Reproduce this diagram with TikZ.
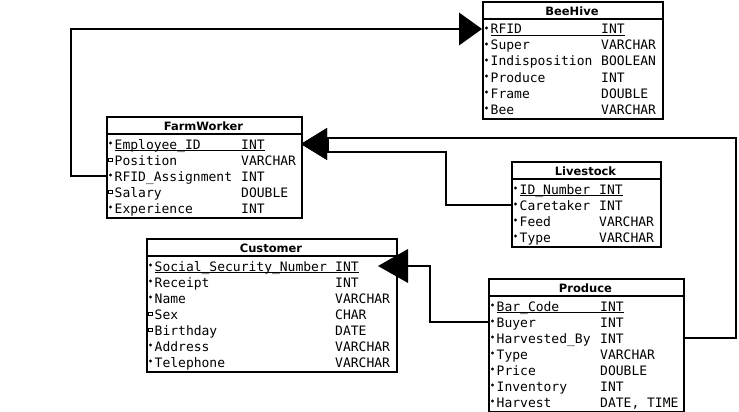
\documentclass[tikz,border=0pt]{standalone}
\usepackage{fontspec}
\newfontfamily\monof{DejaVu Sans Mono}
\newfontfamily\titlef{DejaVu Sans}
\usetikzlibrary{arrows.meta,calc}
\tikzset{
  tblbox/.style={draw, line width=2pt, inner sep=0pt, anchor=north west},
  tbltitle/.style={font=\titlef\bfseries\fontsize{11.5}{12}\selectfont, inner sep=0pt},
  attr/.style={font=\monof\fontsize{13}{14}\selectfont, inner sep=0pt, anchor=base west},
  bulf/.style={circle, fill, inner sep=0pt, minimum size=3.3pt, yshift=0.5pt},
  bulo/.style={rectangle, draw, line width=0.7pt, inner sep=0pt, minimum size=3.4pt, fill=white, yshift=-0.5pt},
  conn/.style={line width=2pt},
  keyline/.style={line width=1pt},
}
\newcommand\dbtable[6]{%
  \def\curid{#1}\def\curleft{#2}\def\curright{#3}\def\curtop{#4}%
  \pgfmathsetmacro\dbw{#3-#2}%
  \pgfmathsetmacro\dbh{18+16*#5+3}%
  \node[tblbox, minimum width=\dbw pt, minimum height=\dbh pt] (#1) at (#2,#4) {};
  \draw[line width=2pt] (#2,{#4+18}) -- (#3,{#4+18});
  \node[tbltitle] (#1-title) at ({(#2+#3)/2},{#4+10}) {#6};
}
\newcommand\dbcol[1]{\def\curtypex{#1}}
\newcommand\dbrow[4]{%
  \pgfmathsetmacro\rowc{\curtop+29+16*(#1-1)}%
  \coordinate (\curid-r#1) at (\curleft,{\rowc-1});
  \coordinate (\curid-R#1) at (\curright,{\rowc-1});
  \node[bul#2] (\curid-b#1) at ({\curleft+4.5},{\rowc-1.5}) {};
  \node[attr] (\curid-n#1) at ({\curleft+8.5},{\rowc+4}) {#3};
  \node[attr] (\curid-t#1) at (\curtypex,{\rowc+4}) {#4};
}
\newcommand\dbkey{\draw[keyline] ([yshift=-1.8pt]\curid-n1.base west) -- ([yshift=-1.8pt]\curid-t1.base east);}
\begin{document}
\begin{tikzpicture}[x=1pt,y=-1pt]
\useasboundingbox (0,0) rectangle (739,412);

% BeeHive
\dbtable{bee}{482}{662}{1}{6}{BeeHive}
\dbcol{601}
\dbrow{1}{f}{RFID}{INT}
\dbrow{2}{f}{Super}{VARCHAR}
\dbrow{3}{f}{Indisposition}{BOOLEAN}
\dbrow{4}{f}{Produce}{INT}
\dbrow{5}{f}{Frame}{DOUBLE}
\dbrow{6}{f}{Bee}{VARCHAR}
\dbkey

% FarmWorker
\dbtable{fw}{106}{301}{116}{5}{FarmWorker}
\dbcol{241}
\dbrow{1}{f}{Employee\_ID}{INT}
\dbrow{2}{o}{Position}{VARCHAR}
\dbrow{3}{f}{RFID\_Assignment}{INT}
\dbrow{4}{o}{Salary}{DOUBLE}
\dbrow{5}{f}{Experience}{INT}
\dbkey

% Livestock
\dbtable{liv}{511}{660}{161}{4}{Livestock}
\dbcol{599}
\dbrow{1}{f}{ID\_Number}{INT}
\dbrow{2}{f}{Caretaker}{INT}
\dbrow{3}{f}{Feed}{VARCHAR}
\dbrow{4}{f}{Type}{VARCHAR}
\dbkey

% Customer
\dbtable{cust}{146}{396}{238}{7}{Customer}
\dbcol{335}
\dbrow{1}{f}{Social\_Security\_Number}{INT}
\dbrow{2}{f}{Receipt}{INT}
\dbrow{3}{f}{Name}{VARCHAR}
\dbrow{4}{o}{Sex}{CHAR}
\dbrow{5}{o}{Birthday}{DATE}
\dbrow{6}{f}{Address}{VARCHAR}
\dbrow{7}{f}{Telephone}{VARCHAR}
\dbkey

% Produce
\dbtable{prod}{488}{683}{278}{7}{Produce}
\dbcol{600}
\dbrow{1}{f}{Bar\_Code}{INT}
\dbrow{2}{f}{Buyer}{INT}
\dbrow{3}{f}{Harvested\_By}{INT}
\dbrow{4}{f}{Type}{VARCHAR}
\dbrow{5}{f}{Price}{DOUBLE}
\dbrow{6}{f}{Inventory}{INT}
\dbrow{7}{f}{Harvest}{DATE, TIME}
\dbkey

% connectors
\coordinate (bendA) at (71,0);
\coordinate (bendB) at (446,152);
\coordinate (bendC) at (736,138);
\coordinate (bendD) at (430,0);
\coordinate (jog) at (328,0);
\coordinate (custtip) at ([xshift=-18pt]cust-R1);

\draw[conn, -{Triangle[length=23pt,width=33pt,line width=0pt]}]
  (fw-r3) -- (fw-r3 -| bendA) |- (bee-r1);
\draw[conn, -{Triangle[length=26pt,width=32pt,line width=0pt]}]
  (liv-r2) -| (bendB) -- (bendB -| jog) -- (jog |- fw-R1) -- (fw-R1);
\draw[conn, -{Triangle[length=26pt,width=32pt,line width=0pt]}]
  (prod-R3) -| (bendC) -- (bendC -| jog) -- (jog |- fw-R1) -- (fw-R1);
\draw[conn, -{Triangle[length=30pt,width=34pt,line width=0pt]}]
  (prod-r2) -| (bendD |- custtip) -- (custtip);
\end{tikzpicture}
\end{document}
